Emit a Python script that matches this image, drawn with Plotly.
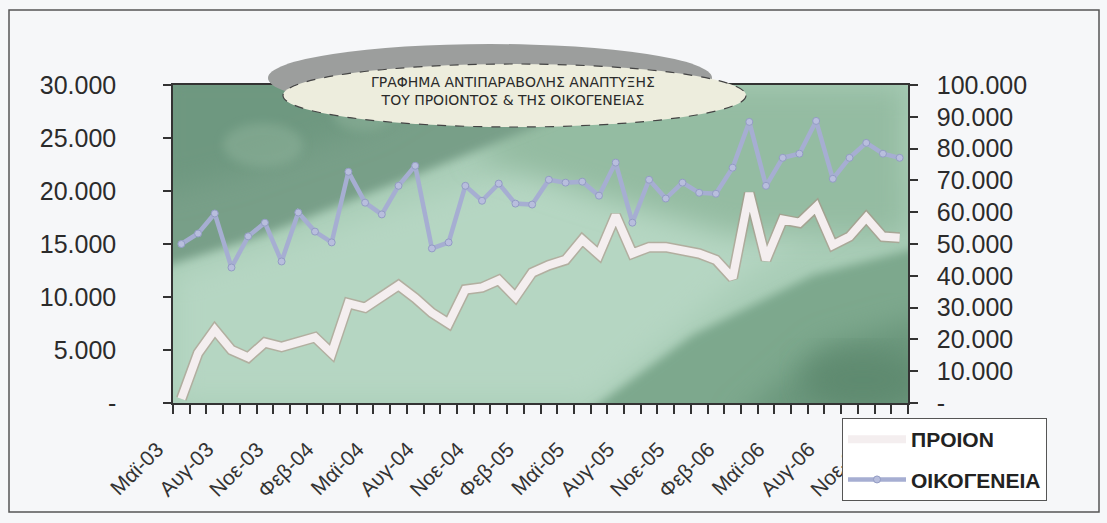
import base64
import plotly.graph_objects as go

# Monthly series, May 2003 - Dec 2006
months = [
    "Μαϊ-03", "Ιουν-03", "Ιουλ-03", "Αυγ-03", "Σεπ-03", "Οκτ-03", "Νοε-03", "Δεκ-03",
    "Ιαν-04", "Φεβ-04", "Μαρ-04", "Απρ-04", "Μαϊ-04", "Ιουν-04", "Ιουλ-04", "Αυγ-04",
    "Σεπ-04", "Οκτ-04", "Νοε-04", "Δεκ-04", "Ιαν-05", "Φεβ-05", "Μαρ-05", "Απρ-05",
    "Μαϊ-05", "Ιουν-05", "Ιουλ-05", "Αυγ-05", "Σεπ-05", "Οκτ-05", "Νοε-05", "Δεκ-05",
    "Ιαν-06", "Φεβ-06", "Μαρ-06", "Απρ-06", "Μαϊ-06", "Ιουν-06", "Ιουλ-06", "Αυγ-06",
    "Σεπ-06", "Οκτ-06", "Νοε-06", "Δεκ-06",
]

proion = [
    400, 4700, 6900, 5000, 4300, 5700, 5300, 5750, 6200, 4700,
    9400, 9000, 10000, 11100, 9900, 8500, 7500, 10700, 10900, 11600,
    10000, 12300, 13000, 13500, 15400, 14000, 17700, 14100, 14700, 14700,
    14400, 14100, 13500, 11800, 19800, 13500, 17300, 17000, 18500, 14900,
    15700, 17500, 15700, 15600,
]

oikogeneia = [
    50000, 53300, 59600, 42600, 52400, 56700, 44500, 59900, 53900, 50500,
    72700, 63000, 59300, 68300, 74600, 48600, 50500, 68300, 63600, 69000,
    62700, 62400, 70200, 69300, 69600, 65200, 75600, 56700, 70200, 64300,
    69300, 66100, 65800, 74000, 88400, 68300, 77100, 78400, 88700, 70500,
    77100, 81800, 78400, 77100,
]

left_ticks = [0, 5000, 10000, 15000, 20000, 25000, 30000]
left_text = ["-", "5.000", "10.000", "15.000", "20.000", "25.000", "30.000"]
right_ticks = [0, 10000, 20000, 30000, 40000, 50000, 60000, 70000, 80000, 90000, 100000]
right_text = ["-", "10.000", "20.000", "30.000", "40.000", "50.000",
              "60.000", "70.000", "80.000", "90.000", "100.000"]

title_lines = ["ΓΡΑΦΗΜΑ ΑΝΤΙΠΑΡΑΒΟΛΗΣ ΑΝΑΠΤΥΞΗΣ", "ΤΟΥ ΠΡΟΙΟΝΤΟΣ & ΤΗΣ ΟΙΚΟΓΕΝΕΙΑΣ"]

x = list(range(len(months)))
label_pos = x[::3]
label_text = months[::3]

# Page geometry (pixels)
W, H = 1107, 523
L, R, T, B = 173, 908, 85, 403
pw, ph = R - L, B - T


def px(xp):
    return (xp - L) / pw


def py(yp):
    return (B - yp) / ph


# Textured green backdrop for the plotting area
svg = f"""<svg xmlns='http://www.w3.org/2000/svg' width='{pw}' height='{ph}' viewBox='0 0 {pw} {ph}' preserveAspectRatio='none'>
<defs>
<filter id='b' x='-20%' y='-20%' width='140%' height='140%'><feGaussianBlur stdDeviation='14'/></filter>
<filter id='s' x='-20%' y='-20%' width='140%' height='140%'><feGaussianBlur stdDeviation='5'/></filter>
</defs>
<rect width='{pw}' height='{ph}' fill='#a9cdb7'/>
<polygon points='0,190 0,{ph} 420,{ph} 560,200 735,80 735,20 500,40 260,110' fill='#b5d6c2' filter='url(#b)'/>
<polygon points='380,0 735,0 735,150 560,150 420,110 300,70' fill='#94bca2' filter='url(#b)'/>
<polygon points='-20,-20 480,-20 380,35 230,95 90,150 -20,185' fill='#789f88' filter='url(#s)'/>
<polygon points='-20,-20 300,-20 200,40 60,90 -20,110' fill='#6e9880' filter='url(#b)'/>
<polygon points='400,{ph+20} 755,{ph+20} 755,160 640,190 520,250' fill='#7da88d' filter='url(#s)'/>
<polygon points='560,{ph+20} 755,{ph+20} 755,230 650,260' fill='#6a967c' filter='url(#b)'/>
<ellipse cx='690' cy='295' rx='60' ry='30' fill='#5f8a70' filter='url(#b)'/>
<ellipse cx='90' cy='60' rx='40' ry='22' fill='#8fb39b' opacity='0.5' filter='url(#s)'/>
<ellipse cx='190' cy='30' rx='30' ry='16' fill='#8fb39b' opacity='0.5' filter='url(#s)'/>
</svg>"""
bg_src = "data:image/svg+xml;base64," + base64.b64encode(svg.encode("utf-8")).decode("ascii")

fig = go.Figure()

# ΠΡΟΙΟΝ: thick pale line with a faint rosy edge
fig.add_trace(go.Scatter(
    x=x, y=proion, mode="lines", yaxis="y",
    line=dict(color="rgba(175,135,125,0.5)", width=11),
    showlegend=False, hoverinfo="skip",
))
fig.add_trace(go.Scatter(
    x=x, y=proion, mode="lines", yaxis="y", name="ΠΡΟΙΟΝ", legendgroup="a",
    line=dict(color="#f4eeef", width=8),
))

# ΟΙΚΟΓΕΝΕΙΑ on the secondary axis
fig.add_trace(go.Scatter(
    x=x, y=oikogeneia, mode="lines+markers", yaxis="y2", name="ΟΙΚΟΓΕΝΕΙΑ", legendgroup="b",
    line=dict(color="#a6aed2", width=4.5),
    marker=dict(size=7, color="#b8bedd", line=dict(color="#939cc4", width=1)),
))

axis_font = dict(family="Liberation Sans, Arial, sans-serif", size=25, color="#2b2b2b")

fig.update_layout(
    width=W, height=H,
    margin=dict(l=L, r=W - R, t=T, b=H - B),
    paper_bgcolor="#f6f7f9",
    plot_bgcolor="#a9cdb7",
    showlegend=True,
    xaxis=dict(
        range=[-0.5, len(months) - 0.5],
        tickmode="array", tickvals=label_pos, ticktext=label_text,
        tickangle=-45,
        tickfont=dict(family="Liberation Sans, Arial, sans-serif", size=21, color="#333333"),
        ticks="outside", ticklen=8, tickcolor="rgba(0,0,0,0)",
        minor=dict(ticks="outside", ticklen=9, tickwidth=1.5, tickcolor="#333333",
                   tick0=-0.5, dtick=1),
        showline=True, linecolor="#333333", linewidth=1.5, mirror=True,
        showgrid=False, zeroline=False,
        ticklabelstandoff=16, ticklabelshift=-24,
    ),
    yaxis=dict(
        range=[0, 30000],
        tickmode="array", tickvals=left_ticks, ticktext=left_text,
        tickfont=axis_font,
        ticks="outside", ticklen=8, tickwidth=1.5, tickcolor="#333333",
        showline=True, linecolor="#333333", linewidth=1.5,
        showgrid=False, zeroline=False,
        ticklabelstandoff=42,
    ),
    yaxis2=dict(
        range=[0, 100000], overlaying="y", side="right",
        tickmode="array", tickvals=right_ticks, ticktext=right_text,
        tickfont=axis_font,
        ticks="outside", ticklen=8, tickwidth=1.5, tickcolor="#333333",
        showline=True, linecolor="#333333", linewidth=1.5,
        showgrid=False, zeroline=False,
        ticklabelstandoff=14,
    ),
    legend=dict(
        x=px(842), y=py(418), xanchor="left", yanchor="top",
        bgcolor="#ffffff", bordercolor="#555555", borderwidth=1,
        font=dict(family="Liberation Sans, Arial, sans-serif", size=21, color="#222222",
                  weight="bold"),
        itemwidth=58, tracegroupgap=10, traceorder="grouped",
    ),
    images=[dict(
        source=bg_src, xref="paper", yref="paper", x=0, y=1, sizex=1, sizey=1,
        sizing="stretch", layer="below", xanchor="left", yanchor="top",
    )],
    shapes=[
        # outer chart frame
        dict(type="rect", xref="paper", yref="paper",
             x0=px(9), x1=px(1099), y0=py(512), y1=py(10),
             line=dict(color="#555555", width=1.5), fillcolor="rgba(0,0,0,0)", layer="below"),
        # title bubble: shadow, then face
        dict(type="circle", xref="paper", yref="paper",
             x0=px(268), x1=px(712), y0=py(112), y1=py(44),
             fillcolor="#9c9e9d", line=dict(width=0)),
        dict(type="circle", xref="paper", yref="paper",
             x0=px(283), x1=px(746), y0=py(127), y1=py(64),
             fillcolor="#ededdd", line=dict(color="#444444", width=1.2, dash="dash")),
    ],
    annotations=[dict(
        xref="paper", yref="paper", x=px(513), y=py(91),
        text="<br>".join(title_lines), showarrow=False,
        font=dict(family="DejaVu Sans, sans-serif", size=14, color="#2a2a2a"),
        align="center", xanchor="center", yanchor="middle",
    )],
)

fig.write_html("out.html")
